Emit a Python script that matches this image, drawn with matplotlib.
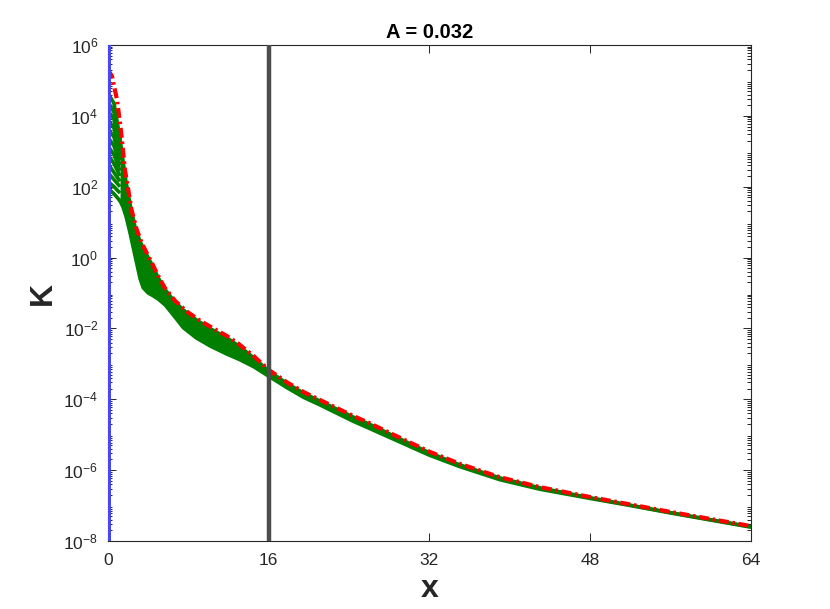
import numpy as np
import matplotlib
matplotlib.use("Agg")
import matplotlib.pyplot as plt
from matplotlib.ticker import FixedLocator, NullFormatter

# values, stored as log10(K)
red_x = [0, 0.4, 0.9, 1.2, 1.4, 1.69, 2.02, 2.35, 2.85, 3.35, 3.85, 4.35, 5.0, 5.67,
         6.67, 7.83, 9.15, 10.48, 11.81, 12.97, 14.5, 16, 17.8, 19.5, 21.1, 24.4,
         26, 29, 32, 35, 39, 43, 48, 52, 56, 60, 64]
red_logk = [5.3, 5.12, 4.45, 3.8, 3.3, 2.47, 1.91, 1.34, 0.8, 0.42, 0.13, -0.14,
            -0.52, -0.86, -1.22, -1.52, -1.78, -2.0, -2.21, -2.43, -2.78, -3.17,
            -3.52, -3.8, -4.02, -4.47, -4.67, -5.08, -5.48, -5.82, -6.2, -6.48,
            -6.76, -6.97, -7.18, -7.38, -7.58]

# green family near x = 0 (each row is one curve)
fan_x = [0, 0.6, 1.2]
fan_logk = [
    [4.65, 4.35, 3.35],
    [4.40, 4.10, 3.20],
    [4.15, 3.90, 3.05],
    [3.90, 3.65, 2.90],
    [3.65, 3.40, 2.75],
    [3.40, 3.15, 2.60],
    [3.15, 2.90, 2.45],
    [2.90, 2.65, 2.30],
    [2.65, 2.40, 2.15],
    [2.40, 2.20, 2.00],
    [2.15, 2.00, 1.82],
    [1.95, 1.80, 1.60],
]

# green family further out: upper and lower edge of the band
band_x = [1.2, 1.5, 1.8, 2.2, 2.7, 3.2, 3.5, 4.0, 4.5, 5.0, 5.7, 6.5, 7.5, 8.8,
          10.2, 11.8, 13.1, 14.5, 16, 17.8, 19.5, 21.1, 24.4, 26, 29, 32, 35, 39,
          43, 48, 52, 56, 60, 64]
band_top = [3.35, 2.72, 2.13, 1.5, 0.85, 0.45, 0.28, 0.0, -0.27, -0.57, -0.91,
            -1.2, -1.48, -1.76, -2.01, -2.26, -2.51, -2.83, -3.2, -3.55, -3.83,
            -4.05, -4.5, -4.7, -5.11, -5.51, -5.85, -6.22, -6.5, -6.78, -6.99,
            -7.2, -7.4, -7.6]
band_bottom = [1.6, 1.42, 1.16, 0.69, 0.04, -0.6, -0.85, -1.0, -1.08, -1.17, -1.34,
               -1.62, -1.98, -2.27, -2.5, -2.72, -2.88, -3.08, -3.35, -3.67, -3.95,
               -4.16, -4.62, -4.82, -5.2, -5.58, -5.9, -6.27, -6.54, -6.8, -7.0,
               -7.21, -7.41, -7.61]

x_mark = 16
title = "A = 0.032"

plt.rcParams['font.family'] = ['Liberation Sans', 'DejaVu Sans']
plt.rcParams['mathtext.default'] = 'regular'

fig = plt.figure(figsize=(8.3, 6.09), dpi=100)
ax = fig.add_axes([0.1301, 0.1117, 0.7747, 0.8144])

green = '#007f00'
for row in fan_logk:
    ax.plot(fan_x, np.power(10.0, row), color=green, lw=2.6,
            solid_capstyle='butt', zorder=2)
top = np.power(10.0, band_top)
bot = np.power(10.0, band_bottom)
ax.fill_between(band_x, bot, top, color=green, lw=0, zorder=2)
ax.plot(band_x, top, color=green, lw=2.6, zorder=2)
ax.plot(band_x, bot, color=green, lw=2.6, zorder=2)

ax.plot(red_x, np.power(10.0, red_logk), color='#ff0000', lw=3.0,
        ls=(0, (2.4, 0.9, 0.6, 0.9)), zorder=3)

ax.axvline(0, color='#4848f0', lw=3.6, zorder=4)
ax.axvline(x_mark, color='#4d4d4d', lw=3.2, zorder=4)

ax.set_yscale('log')
ax.set_xlim(0, 64)
ax.set_ylim(1e-8, 1e6)
ax.set_xticks([0, 16, 32, 48, 64])
ax.set_xticklabels(['0', '16', '32', '48', '64'])
yt = [10.0 ** e for e in range(-8, 7, 2)]
ax.yaxis.set_major_locator(FixedLocator(yt))
ax.set_yticklabels([r'$10^{%d}$' % e for e in range(-8, 7, 2)])
minors = [m * 10.0 ** e for e in range(-8, 6) for m in range(2, 10)]
ax.yaxis.set_minor_locator(FixedLocator(minors))
ax.yaxis.set_minor_formatter(NullFormatter())

axcol = '#262626'
for s in ax.spines.values():
    s.set_color(axcol)
    s.set_linewidth(0.8)
ax.tick_params(which='both', direction='in', top=True, right=True,
               colors=axcol, labelsize=12.5, width=0.7)
ax.tick_params(which='major', length=6, pad=7)
ax.tick_params(which='minor', length=3)
ax.tick_params(axis='x', pad=9)

ax.set_xlabel('x', fontsize=23, fontweight='bold', color=axcol, labelpad=4)
ax.set_ylabel('K', fontsize=23, fontweight='bold', color=axcol, labelpad=4)
ax.set_title(title, fontsize=14.5, fontweight='bold', color='black', pad=5)

fig.savefig('out.png', dpi=100)
